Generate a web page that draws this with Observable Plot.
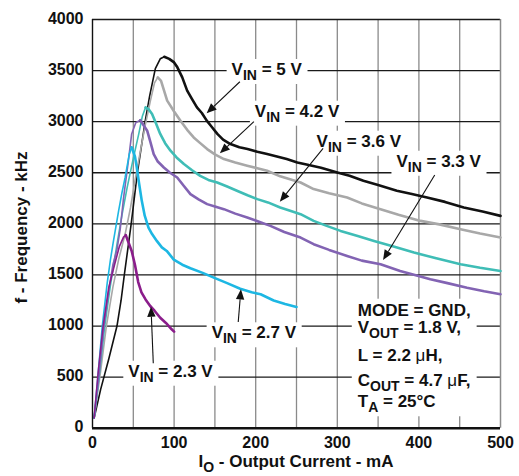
<!DOCTYPE html>
<html><head><meta charset="utf-8">
<script src="https://cdn.jsdelivr.net/npm/d3@7"></script>
<script src="https://cdn.jsdelivr.net/npm/@observablehq/plot@0.6"></script>
<style>html,body{margin:0;padding:0;background:#fff}</style>
</head><body><div id="chart"></div>
<script>
// ---- Data: I_O (mA) and switching frequency (kHz) per input voltage ----
const vin5_I = [2,10,20,30,35,39,47.4,55,64.5,70,77,83,88,94,100,104,110,116,122,128,134,140,146,153,160,169,180,190,202,214,226,238,251,265,280,300,315,332,350,373,390,410,432,455,478,500];
const vin5_F = [100,380,680,1000,1250,1500,2000,2500,3000,3250,3520,3615,3635,3615,3580,3532,3434,3304,3220,3140,3085,3010,2950,2880,2825,2781,2750,2732,2705,2683,2660,2634,2601,2575,2550,2503,2470,2421,2380,2324,2295,2258,2215,2160,2120,2078];

const vin42_I = [2,10,17,25,32,40,46.6,52,58.8,65,71,76,80,84,91.5,100,107.8,116,124,132,140.5,150,161,175,189.6,202,214,230,245,255,271,290,312,330,353,375,402,425,451,475,500];
const vin42_F = [100,560,1000,1380,1650,1900,2160,2420,2716,2980,3206,3380,3434,3400,3206,3100,3010,2920,2846,2790,2732,2680,2634,2600,2569,2545,2520,2465,2430,2405,2340,2300,2258,2200,2144,2090,2029,1995,1948,1905,1866];

const vin36_I = [2,8,15,22,30,36,42.5,50,56.7,61,65,69,73,78,83,89,95.6,103,112,122,132,142,152.8,165,177,190,202,215,230,245,255,271,287,304,325,345,370,394,420,451,475,500];
const vin36_F = [100,500,1000,1400,1800,2080,2356,2640,2880,3050,3140,3120,3075,2980,2880,2790,2716,2650,2585,2525,2470,2430,2405,2365,2324,2280,2242,2210,2160,2120,2095,2029,1980,1931,1880,1833,1775,1719,1665,1605,1570,1539];

const vin33_I = [2,8,14,20,25,30,34,38,44,48,53,58.5,63,67,71,75,80,87.4,95,103.8,112,120,130,140.5,150,161,175,189.6,204,218,235,255,271,290,312,330,353,377,395,414,435,459,480,500];
const vin33_F = [100,520,1000,1350,1600,1750,1950,2250,2618,2880,2990,3015,2960,2912,2800,2683,2610,2552,2500,2454,2370,2291,2240,2193,2170,2144,2100,2062,2020,1980,1920,1866,1801,1745,1686,1640,1605,1539,1500,1458,1420,1375,1340,1311];

const vin27_I = [2,6,12,18,22,25.7,32,36,40,45,48,52,54.3,57,60.4,64,68.6,73,78.8,85,91,99.6,110,120,135,148.6,165,181,195,206,222,236,250];
const vin27_F = [100,450,1000,1420,1650,1833,2127,2300,2454,2680,2750,2660,2552,2400,2225,2080,1964,1900,1833,1770,1735,1650,1600,1565,1520,1474,1420,1365,1330,1311,1250,1215,1186];

const vin23_I = [2,7,13,20,27,33,38,40.8,44,48,52,56,60,65,70.7,76,83,90,97,100];
const vin23_F = [100,550,1000,1380,1600,1780,1870,1890,1820,1735,1600,1430,1330,1260,1196,1150,1081,1030,968,945];

const seriesI = [vin5_I, vin42_I, vin36_I, vin33_I, vin27_I, vin23_I];
const seriesF = [vin5_F, vin42_F, vin36_F, vin33_F, vin27_F, vin23_F];
const seriesColors = ["#111111", "#a8a8a8", "#3fbdb6", "#8263b3", "#1db7e3", "#8b1d8b"];

// ---- Axis ticks and grid ----
const xTicks = [0, 100, 200, 300, 400, 500];
const yTicks = [0, 500, 1000, 1500, 2000, 2500, 3000, 3500, 4000];
const xGrid = [50, 100, 150, 200, 250, 300, 350, 400, 450];
const yGrid = [500, 1000, 1500, 2000, 2500, 3000, 3500];

// ---- Annotations (text parts: "_" prefix = subscript, "~" prefix = normal weight) ----
const labelParts = [
  ["V", "_IN", " = 5 V"],
  ["V", "_IN", " = 4.2 V"],
  ["V", "_IN", " = 3.6 V"],
  ["V", "_IN", " = 3.3 V"],
  ["V", "_IN", " = 2.7 V"],
  ["V", "_IN", " = 2.3 V"]
];
const labelI = [171.1, 199.6, 275.2, 373.1, 146.6, 44.5];
const labelF = [3452, 3044, 2750, 2554, 875, 499];

const arrowI1 = [181.2, 198.4, 283.2, 420.0, 179.2, 75.1];
const arrowF1 = [3386, 2995, 2734, 2473, 1034, 630];
const arrowI2 = [140.5, 156.7, 230.2, 356.7, 182.5, 72.3];
const arrowF2 = [3077, 2685, 2212, 1641, 1354, 1184];

const condParts = [
  ["MODE = GND,"],
  ["V", "_OUT", " = 1.8 V,"],
  ["L = 2.2 ", "~\u03bc", "H,"],
  ["C", "_OUT", " = 4.7 ", "~\u03bc", "F,"],
  ["T", "_A", " = 25\u00b0C"]
];
const condI = [325.7, 325.7, 325.7, 325.7, 325.7];
const condF = [1096, 924, 653, 408, 200];

const xTitle = ["I", "_O", " - Output Current - mA"];
const yTitle = "f - Frequency - kHz";

// ---- Build per-series tables, split at the peak (thin rising, thick falling) ----
const lineMarks = [];
seriesI.forEach((xs, k) => {
  const ys = seriesF[k];
  const peak = ys.indexOf(Math.max(...ys));
  const pts = xs.map((x, i) => ({x, y: ys[i]}));
  lineMarks.push(Plot.line(pts.slice(0, peak + 1), {x: "x", y: "y", stroke: seriesColors[k], strokeWidth: 1.6}));
  lineMarks.push(Plot.line(pts.slice(peak), {x: "x", y: "y", stroke: seriesColors[k], strokeWidth: 2.6}));
});

const FONT = "'Liberation Sans', Arial, Helvetica, sans-serif";

const chart = Plot.plot({
  width: 519,
  height: 476,
  marginLeft: 92,
  marginRight: 19,
  marginTop: 19,
  marginBottom: 48.3,
  x: {domain: [0, 500]},
  y: {domain: [0, 4000]},
  style: {fontFamily: FONT, fontSize: "16px", fontWeight: "bold", background: "#fff", color: "#111"},
  marks: [
    Plot.ruleX(xGrid, {stroke: "#8a8a8a", strokeWidth: 1.3}),
    Plot.ruleY(yGrid, {stroke: "#1a1a1a", strokeWidth: 1.3}),
    Plot.ruleY([4000], {stroke: "#1a1a1a", strokeWidth: 1.3}),
    Plot.ruleX([500], {stroke: "#8a8a8a", strokeWidth: 1.5}),
    Plot.axisX({ticks: xTicks, tickSize: 0, tickPadding: 8, label: null, tickFormat: d => String(d), fontSize: 16, fontWeight: "bold"}),
    Plot.axisY({ticks: yTicks, tickSize: 0, tickPadding: 9, label: null, tickFormat: d => String(d), fontSize: 16, fontWeight: "bold", dy: -1}),
    ...lineMarks,
    Plot.ruleX([0], {stroke: "#111", strokeWidth: 1.4}),
    Plot.ruleY([0], {stroke: "#111", strokeWidth: 2.4})
  ]
});
document.getElementById("chart").append(chart);

const sx = chart.scale("x"), sy = chart.scale("y");
const svg = d3.select(chart);
const firstCurve = chart.querySelector('g[aria-label="line"]');
const boxG = svg.insert("g", () => firstCurve).attr("aria-label", "label-boxes");
const arrowG = svg.append("g").attr("aria-label", "arrows");
const textG = svg.append("g").attr("aria-label", "annotations")
  .attr("font-family", FONT).attr("font-weight", "bold").attr("fill", "#111");

function richText(g, x, y, parts, size, subSize, anchor) {
  const t = g.append("text").attr("x", x).attr("y", y)
    .attr("font-size", size).attr("text-anchor", anchor || "start");
  let shifted = false;
  parts.forEach(p => {
    const ts = t.append("tspan");
    if (p.startsWith("_")) {
      ts.attr("font-size", subSize).attr("dy", 5).text(p.slice(1));
      shifted = true;
    } else {
      if (shifted) { ts.attr("dy", -5); shifted = false; }
      if (p.startsWith("~")) ts.attr("font-weight", "normal").text(p.slice(1));
      else ts.text(p);
    }
  });
  return t;
}

// VIN labels with white boxes
labelParts.forEach((parts, i) => {
  const t = richText(textG, sx.apply(labelI[i]), sy.apply(labelF[i]), parts, 17, 14);
  const b = t.node().getBBox();
  boxG.append("rect").attr("x", b.x - 5).attr("y", b.y - 1).attr("width", b.width + 10).attr("height", b.height + 2).attr("fill", "#fff");
});

// Conditions block
let bx0 = Infinity, by0 = Infinity, bx1 = -Infinity, by1 = -Infinity;
condParts.forEach((parts, i) => {
  const t = richText(textG, sx.apply(condI[i]), sy.apply(condF[i]), parts, 17, 14);
  const b = t.node().getBBox();
  bx0 = Math.min(bx0, b.x); by0 = Math.min(by0, b.y);
  bx1 = Math.max(bx1, b.x + b.width); by1 = Math.max(by1, b.y + b.height);
});
boxG.append("rect").attr("x", bx0 - 6).attr("y", by0 - 2).attr("width", bx1 - bx0 + 12).attr("height", by1 - by0 + 3).attr("fill", "#fff");

// Arrows
arrowI1.forEach((_, i) => {
  const x1 = sx.apply(arrowI1[i]), y1 = sy.apply(arrowF1[i]);
  const x2 = sx.apply(arrowI2[i]), y2 = sy.apply(arrowF2[i]);
  const a = Math.atan2(y2 - y1, x2 - x1);
  const L = 10, W = 4.2;
  const bxp = x2 - L * Math.cos(a), byp = y2 - L * Math.sin(a);
  arrowG.append("line").attr("x1", x1).attr("y1", y1).attr("x2", bxp).attr("y2", byp)
    .attr("stroke", "#111").attr("stroke-width", 1.1);
  const px = -Math.sin(a) * W, py = Math.cos(a) * W;
  arrowG.append("path")
    .attr("d", `M${x2},${y2}L${bxp + px},${byp + py}L${bxp - px},${byp - py}Z`)
    .attr("fill", "#111");
});

// Axis titles
richText(textG, (sx.range[0] + sx.range[1]) / 2, 467, xTitle, 17, 14, "middle");
textG.append("text").attr("transform", "translate(27,227.5) rotate(-90)")
  .attr("text-anchor", "middle").attr("font-size", 17).text(yTitle);
</script>
</body></html>
